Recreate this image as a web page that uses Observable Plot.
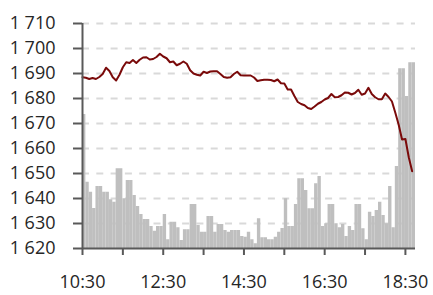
<!DOCTYPE html>
<html><head><meta charset="utf-8">
<script src="https://cdn.jsdelivr.net/npm/d3@7"></script>
<script src="https://cdn.jsdelivr.net/npm/@observablehq/plot@0.6"></script>
<style>html,body{margin:0;padding:0;background:#fff}#chart svg{display:block}</style>
</head><body><div id="chart"></div>
<script>
// 5-minute intervals starting at 10:30
const price = [
1688.5,1688.3,1687.8,1688.2,1687.8,1688.6,1689.8,1692.3,1691.0,1688.5,
1687.2,1689.5,1692.5,1694.5,1694.2,1695.4,1694.2,1695.5,1696.4,1696.5,
1695.6,1695.8,1696.6,1697.9,1696.8,1696.1,1694.5,1694.8,1693.3,1693.9,
1694.8,1693.9,1691.3,1690.0,1689.5,1689.2,1690.7,1690.2,1690.8,1690.9,
1690.9,1689.8,1688.6,1688.3,1688.5,1689.8,1690.7,1689.3,1689.2,1689.2,
1689.2,1688.4,1687.0,1687.3,1687.5,1687.5,1687.4,1686.9,1687.6,1686.1,
1686.0,1683.6,1683.6,1681.0,1678.6,1677.8,1677.3,1676.2,1675.8,1676.8,
1677.9,1678.6,1679.6,1680.2,1681.8,1680.5,1680.6,1681.3,1682.4,1682.3,
1681.6,1682.2,1683.5,1681.5,1682.0,1684.3,1681.8,1680.5,1679.7,1679.7,
1682.0,1680.6,1678.8,1674.3,1669.5,1663.6,1663.8,1656.5,1650.9
];
// bar tops expressed on the price axis (volume bars drawn from the 1620 baseline)
const barTops = [
1673.6,1646.5,1642.5,1636.0,1644.8,1644.8,1642.5,1642.5,1639.5,1638.5,
1651.9,1651.9,1639.9,1647.2,1647.2,1641.2,1636.8,1633.6,1631.6,1631.6,
1628.8,1626.9,1628.8,1628.8,1633.6,1623.5,1630.5,1630.5,1628.3,1623.2,
1627.5,1627.5,1637.6,1637.6,1629.2,1626.5,1626.5,1632.8,1632.8,1626.5,
1629.6,1629.6,1627.2,1626.5,1627.2,1627.2,1627.2,1624.8,1624.5,1626.5,
1623.5,1621.9,1631.9,1624.3,1624.3,1623.5,1623.5,1624.5,1626.5,1628.0,
1639.9,1628.8,1628.8,1637.6,1647.9,1647.9,1643.2,1635.9,1635.9,1645.9,
1648.8,1628.8,1629.9,1637.6,1637.6,1629.9,1628.3,1629.6,1624.8,1628.8,
1627.2,1637.6,1637.6,1627.9,1623.5,1634.5,1632.8,1635.2,1638.5,1633.2,
1629.9,1644.8,1628.3,1652.8,1691.9,1691.9,1680.8,1694.3,1694.3
];
const stepMinutes = 5;
const xTicks = [0,60,120,180,240,300,360,420,480];
const xTickLabels = ["10:30","","12:30","","14:30","","16:30","","18:30"];
const yTicks = [1620,1630,1640,1650,1660,1670,1680,1690,1700,1710];
const yTickLabels = ["1 620","1 630","1 640","1 650","1 660","1 670","1 680","1 690","1 700","1 710"];

const rows = price.map((p, i) => ({t: i * stepMinutes, price: p, bar: barTops[i]}));
const base = yTicks[0];

const chart = Plot.plot({
  width: 433, height: 295,
  marginLeft: 82, marginRight: 18, marginTop: 23, marginBottom: 47,
  x: {domain: [0, 495]},
  y: {domain: [1620, 1710]},
  style: {fontFamily: "'Open Sans', sans-serif", fontSize: "18px", color: "#262626", background: "#fff"},
  marks: [
    Plot.ruleY(yTicks.slice(1), {stroke: "#d9d9d9", strokeWidth: 2, strokeDasharray: "7,7.3"}),
    Plot.rect(rows, {x1: "t", x2: d => d.t + stepMinutes, y1: () => base, y2: "bar", fill: "#bfbfbf"}),
    Plot.line(rows, {x: "t", y: "price", stroke: "#7a0a0a", strokeWidth: 2, strokeLinejoin: "round"}),
    Plot.axisY({ticks: yTicks, tickFormat: d => yTickLabels[yTicks.indexOf(d)], tickSize: 9, tickPadding: 18, stroke: "#595959", strokeWidth: 2, fill: "#262626", label: null}),
    Plot.axisX({ticks: xTicks, tickFormat: d => xTickLabels[xTicks.indexOf(d)], tickSize: 7, tickPadding: 20, stroke: "#595959", strokeWidth: 2, fill: "#262626", label: null}),
    Plot.ruleX([0], {stroke: "#595959", strokeWidth: 2}),
    Plot.ruleY([base], {stroke: "#595959", strokeWidth: 2})
  ]
});
document.getElementById("chart").append(chart);
</script>
</body></html>
